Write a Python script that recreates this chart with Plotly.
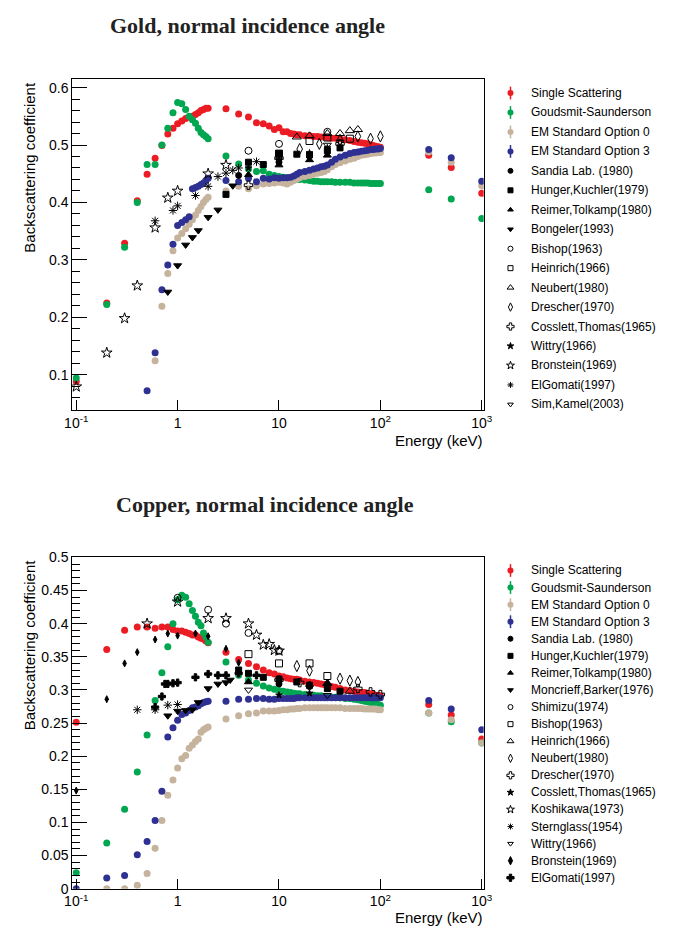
import plotly.graph_objects as go

W, H = 673, 933

# ================= GOLD (top panel) =================
au_E_ss = [0.1,0.2,0.3,0.4,0.5,0.6,0.7,0.8,0.9,1.0,1.1,1.2,1.3,1.4,1.5,1.6,1.7,1.8,1.9,2.0,
           3,4,5,6,7,8,9,10,11,12,13,14,15,16,18,20,22,24,26,28,30,33,36,40,45,50,55,60,65,70,75,80,85,90,95,100,300,500,1000]
au_ss = [0.088,0.225,0.329,0.403,0.449,0.477,0.499,0.519,0.529,0.537,0.542,0.546,0.549,0.550,0.553,0.556,0.560,0.562,0.564,0.564,
         0.563,0.554,0.549,0.539,0.537,0.533,0.527,0.530,0.523,0.523,0.520,0.519,0.518,0.518,0.516,0.516,0.515,0.515,0.514,0.514,
         0.513,0.512,0.512,0.511,0.509,0.508,0.506,0.505,0.504,0.503,0.502,0.500,0.499,0.498,0.497,0.496,0.482,0.461,0.416]
au_gs = [0.094,0.222,0.322,0.400,0.466,0.466,0.500,0.529,0.556,0.574,0.572,0.562,0.550,0.544,0.538,0.529,0.522,0.518,0.515,0.511,
         0.481,0.467,0.458,0.454,0.455,0.449,0.447,0.445,0.444,0.443,0.443,0.442,0.441,0.440,0.439,0.438,0.437,0.437,0.436,0.436,
         0.436,0.436,0.435,0.435,0.435,0.435,0.434,0.434,0.434,0.434,0.434,0.433,0.433,0.433,0.433,0.433,0.422,0.406,0.372]
au_E_em = au_E_ss[5:]
au_em0 = [0.124,0.219,0.276,0.316,0.338,0.346,0.354,0.362,0.370,0.378,0.386,0.393,0.400,0.405,0.409,
          0.420,0.428,0.424,0.429,0.432,0.433,0.434,0.435,0.434,0.432,0.435,0.438,0.441,0.443,0.445,0.447,0.449,0.451,0.452,0.454,
          0.457,0.462,0.466,0.469,0.472,0.475,0.477,0.480,0.482,0.483,0.484,0.485,0.486,0.486,0.487,0.487,0.488,0.470,0.429]
au_em3_E = [0.5] + au_E_em
au_em3 = [0.072,0.138,0.248,0.291,0.327,0.360,0.365,0.370,0.375,0.424,0.426,0.428,0.431,0.434,0.438,0.442,
          0.438,0.436,0.442,0.436,0.442,0.441,0.443,0.442,0.443,0.443,0.444,0.446,0.449,0.452,0.454,0.456,0.458,0.460,0.462,0.463,
          0.465,0.470,0.475,0.479,0.482,0.485,0.487,0.488,0.489,0.490,0.491,0.492,0.492,0.493,0.493,0.494,0.492,0.478,0.437]

au_sandia_E = [4, 10, 20]
au_sandia = [0.447, 0.470, 0.481]
au_hunger_E = [3, 5, 7, 10, 15, 20, 30, 40]
au_hunger = [0.414, 0.470, 0.466, 0.485, 0.484, 0.483, 0.490, 0.495]
au_reimer_E = [5, 10, 20, 30]
au_reimer = [0.448, 0.465, 0.474, 0.482]
au_bongeler_E = [0.8, 1.0, 1.2, 1.4, 1.6, 2.0, 2.5, 3.5]
au_bongeler = [0.244, 0.290, 0.326, 0.339, 0.351, 0.374, 0.387, 0.429]
au_bishop_E = [5, 10, 30]
au_bishop = [0.490, 0.502, 0.523]
au_heinrich_E = [10, 20, 30, 50]
au_heinrich = [0.485, 0.507, 0.513, 0.511]
au_neubert_E = [15, 20, 30, 40, 50, 60]
au_neubert = [0.514, 0.516, 0.520, 0.520, 0.525, 0.527]
au_drescher_E = [10, 16, 25, 40, 60, 80, 100]
au_drescher = [0.476, 0.493, 0.502, 0.509, 0.515, 0.511, 0.515]
au_cosslett_E = [5, 10, 40]
au_cosslett = [0.430, 0.477, 0.502]
au_wittry_E = [5, 10, 20, 30]
au_wittry = [0.460, 0.475, 0.486, 0.495]
au_bronstein_E = [0.1, 0.2, 0.3, 0.4, 0.6, 0.8, 1.0, 2.0, 3.0]
au_bronstein = [0.079, 0.138, 0.198, 0.255, 0.356, 0.408, 0.420, 0.450, 0.465]
au_elgomati_E = [0.6, 0.9, 1.0, 1.5, 2.0, 2.5, 3.0, 3.5, 4.0, 6.0]
au_elgomati = [0.368, 0.386, 0.394, 0.412, 0.428, 0.445, 0.451, 0.456, 0.460, 0.471]
au_simkamel_E = [30, 40]
au_simkamel = [0.500, 0.505]

# ================= COPPER (bottom panel) =================
cu_E = au_E_ss
cu_ss = [0.251,0.361,0.390,0.395,0.395,0.393,0.395,0.395,0.391,0.389,0.389,0.387,0.385,0.383,0.383,0.380,0.378,0.377,0.374,0.371,
         0.357,0.346,0.340,0.335,0.330,0.326,0.324,0.321,0.320,0.318,0.317,0.316,0.316,0.315,0.313,0.312,0.311,0.310,0.309,0.308,
         0.307,0.305,0.304,0.302,0.300,0.299,0.298,0.297,0.296,0.296,0.295,0.294,0.293,0.292,0.292,0.291,0.278,0.262,0.226]
cu_gs = [0.024,0.069,0.120,0.176,0.232,0.284,0.326,0.365,0.400,0.436,0.443,0.440,0.430,0.420,0.411,0.402,0.397,0.386,0.380,0.372,
         0.342,0.322,0.315,0.310,0.306,0.303,0.301,0.299,0.298,0.297,0.296,0.295,0.294,0.294,0.293,0.292,0.292,0.291,0.291,0.290,
         0.290,0.289,0.289,0.288,0.287,0.287,0.286,0.285,0.284,0.283,0.282,0.281,0.280,0.279,0.278,0.277,0.265,0.252,0.220]
cu_em0_E = au_E_ss[1:]
cu_em0 = [0.000,0.000,0.005,0.023,0.061,0.103,0.141,0.164,0.182,0.196,0.201,0.212,0.217,0.222,0.226,0.236,0.240,0.242,0.244,
          0.256,0.261,0.264,0.265,0.268,0.268,0.268,0.269,0.270,0.270,0.271,0.271,0.272,0.272,0.273,0.273,0.273,0.273,0.273,0.273,
          0.273,0.273,0.273,0.273,0.272,0.272,0.272,0.272,0.272,0.271,0.271,0.271,0.271,0.271,0.270,0.270,0.265,0.255,0.220]
cu_em3 = [0.000,0.016,0.020,0.051,0.071,0.103,0.147,0.229,0.243,0.254,0.263,0.265,0.269,0.273,0.274,0.276,0.279,0.281,0.282,0.283,
          0.283,0.286,0.286,0.287,0.287,0.286,0.286,0.287,0.287,0.287,0.287,0.287,0.288,0.288,0.288,0.288,0.288,0.288,0.288,0.288,
          0.288,0.288,0.288,0.288,0.288,0.288,0.288,0.288,0.288,0.288,0.288,0.288,0.288,0.288,0.288,0.288,0.284,0.271,0.240]

cu_sandia_E = [10, 20]
cu_sandia = [0.309, 0.305]
cu_hunger_E = [4, 5, 7, 10, 15, 20, 30, 40]
cu_hunger = [0.330, 0.325, 0.319, 0.316, 0.312, 0.307, 0.302, 0.298]
cu_reimer_E = [5, 20, 30]
cu_reimer = [0.312, 0.308, 0.310]
cu_moncrieff_E = [0.8, 1.0, 1.2, 1.4, 1.6, 2.0, 2.5, 3.0, 3.3]
cu_moncrieff = [0.261, 0.268, 0.269, 0.270, 0.281, 0.302, 0.309, 0.311, 0.315]
cu_shimizu_E = [1.0, 2.0, 3.0, 5.0, 10.0]
cu_shimizu = [0.439, 0.421, 0.400, 0.386, 0.359]
cu_bishop_E = [5, 10, 20, 30]
cu_bishop = [0.354, 0.340, 0.340, 0.321]
cu_heinrich_E = [30, 50]
cu_heinrich = [0.310, 0.298]
cu_neubert_E = [15, 20, 40, 50, 60]
cu_neubert = [0.336, 0.329, 0.317, 0.314, 0.312]
cu_drescher_E = [10, 16, 60, 80, 100]
cu_drescher = [0.315, 0.311, 0.302, 0.297, 0.293]
cu_cosslett_E = [10, 20]
cu_cosslett = [0.292, 0.295]
cu_koshikawa_E = [0.5, 1.0, 2.0, 3.0, 5.0, 6.0, 7.0, 8.0, 9.0, 10.0]
cu_koshikawa = [0.400, 0.433, 0.408, 0.408, 0.400, 0.383, 0.368, 0.369, 0.360, 0.359]
cu_sternglass_E = [0.4, 0.6, 0.8, 1.0]
cu_sternglass = [0.270, 0.270, 0.277, 0.278]
cu_wittry_E = [5, 30]
cu_wittry = [0.300, 0.292]
cu_bronstein_E = [0.1, 0.2, 0.3, 0.4, 0.6, 0.8, 1.0, 1.5, 2.0, 3.0, 4.0]
cu_bronstein = [0.148, 0.286, 0.340, 0.357, 0.376, 0.385, 0.382, 0.385, 0.381, 0.362, 0.341]
cu_elgomati_E = [0.6, 0.7, 0.75, 0.8, 0.9, 1.0, 1.5, 2.0, 2.5, 3.0, 4.0, 6.0]
cu_elgomati = [0.274, 0.290, 0.309, 0.309, 0.310, 0.311, 0.319, 0.324, 0.322, 0.322, 0.325, 0.322]

RED, GREEN, TAN, BLUE = "#ec1c24", "#00a650", "#c6b39d", "#2e3192"

x_tickvals = [0.1, 1, 10, 100, 1000]
x_ticktext = ["10<sup>-1</sup>", "1", "10", "10<sup>2</sup>", "10<sup>3</sup>"]
x_minor = [m * 10.0 ** d for d in (-1, 0, 1, 2) for m in range(2, 10)]

fig = go.Figure()

def sim(x, y, color, xa, ya):
    fig.add_trace(go.Scatter(x=x, y=y, mode="markers", xaxis=xa, yaxis=ya, showlegend=False,
                             marker=dict(symbol="circle", size=7, color=color, line=dict(width=0))))

def exp(x, y, sym, xa, ya, size=7):
    fig.add_trace(go.Scatter(x=x, y=y, mode="markers", xaxis=xa, yaxis=ya, showlegend=False,
                             marker=dict(symbol=sym, size=size, color="black",
                                         line=dict(width=1, color="black"))))

# gold
sim(au_E_ss, au_ss, RED, "x", "y")
sim(au_E_ss, au_gs, GREEN, "x", "y")
sim(au_E_em, au_em0, TAN, "x", "y")
sim(au_em3_E, au_em3, BLUE, "x", "y")
au_exp = [
    ("Sandia Lab. (1980)", au_sandia_E, au_sandia, "circle", 6),
    ("Hunger,Kuchler(1979)", au_hunger_E, au_hunger, "square", 6),
    ("Reimer,Tolkamp(1980)", au_reimer_E, au_reimer, "triangle-up", 7),
    ("Bongeler(1993)", au_bongeler_E, au_bongeler, "triangle-down", 7),
    ("Bishop(1963)", au_bishop_E, au_bishop, "circle-open", 7),
    ("Heinrich(1966)", au_heinrich_E, au_heinrich, "square-open", 7),
    ("Neubert(1980)", au_neubert_E, au_neubert, "triangle-up-open", 8),
    ("Drescher(1970)", au_drescher_E, au_drescher, "diamond-tall-open", 8),
    ("Cosslett,Thomas(1965)", au_cosslett_E, au_cosslett, "cross-open", 7),
    ("Wittry(1966)", au_wittry_E, au_wittry, "star", 5),
    ("Bronstein(1969)", au_bronstein_E, au_bronstein, "star-open", 8),
    ("ElGomati(1997)", au_elgomati_E, au_elgomati, "asterisk-open", 7),
    ("Sim,Kamel(2003)", au_simkamel_E, au_simkamel, "triangle-down-open", 7),
]
for name, ex, ey, sym, sz in au_exp:
    exp(ex, ey, sym, "x", "y", sz)

# copper
sim(cu_E, cu_ss, RED, "x2", "y2")
sim(cu_E, cu_gs, GREEN, "x2", "y2")
sim(cu_em0_E, cu_em0, TAN, "x2", "y2")
sim(cu_E, cu_em3, BLUE, "x2", "y2")
cu_exp = [
    ("Sandia Lab. (1980)", cu_sandia_E, cu_sandia, "circle", 6),
    ("Hunger,Kuchler(1979)", cu_hunger_E, cu_hunger, "square", 6),
    ("Reimer,Tolkamp(1980)", cu_reimer_E, cu_reimer, "triangle-up", 7),
    ("Moncrieff,Barker(1976)", cu_moncrieff_E, cu_moncrieff, "triangle-down", 7),
    ("Shimizu(1974)", cu_shimizu_E, cu_shimizu, "circle-open", 7),
    ("Bishop(1963)", cu_bishop_E, cu_bishop, "square-open", 7),
    ("Heinrich(1966)", cu_heinrich_E, cu_heinrich, "triangle-up-open", 8),
    ("Neubert(1980)", cu_neubert_E, cu_neubert, "diamond-tall-open", 8),
    ("Drescher(1970)", cu_drescher_E, cu_drescher, "cross-open", 7),
    ("Cosslett,Thomas(1965)", cu_cosslett_E, cu_cosslett, "star", 5),
    ("Koshikawa(1973)", cu_koshikawa_E, cu_koshikawa, "star-open", 8),
    ("Sternglass(1954)", cu_sternglass_E, cu_sternglass, "asterisk-open", 7),
    ("Wittry(1966)", cu_wittry_E, cu_wittry, "triangle-down-open", 7),
    ("Bronstein(1969)", cu_bronstein_E, cu_bronstein, "diamond-tall", 5),
    ("ElGomati(1997)", cu_elgomati_E, cu_elgomati, "cross", 6),
]
for name, ex, ey, sym, sz in cu_exp:
    exp(ex, ey, sym, "x2", "y2", sz)

sim_entries = [("Single Scattering", RED), ("Goudsmit-Saunderson", GREEN),
               ("EM Standard Option 0", TAN), ("EM Standard Option 3", BLUE)]

annotations = []
leg_font = dict(family="Liberation Sans, Arial", size=12, color="black")

def legend(entries_exp, y0, dy):
    rows = len(sim_entries) + len(entries_exp)
    ys = [y0 + i * dy for i in range(rows)]
    for i, (name, col) in enumerate(sim_entries):
        fig.add_trace(go.Scatter(x=[515.5], y=[ys[i]], mode="markers", xaxis="x3", yaxis="y3",
                                 showlegend=False, hoverinfo="skip",
                                 error_y=dict(type="constant", value=6.5, thickness=1.5, width=0, color=col),
                                 marker=dict(symbol="circle", size=6, color=col, line=dict(width=0))))
        annotations.append(dict(x=535 / W, y=1 - ys[i] / H, xref="paper", yref="paper", text=name,
                                showarrow=False, xanchor="left", yanchor="middle", font=leg_font))
    for j, (name, ex, ey, sym, sz) in enumerate(entries_exp):
        i = j + len(sim_entries)
        lsz = 6 if sym in ("cross", "cross-open", "diamond-tall", "diamond-tall-open") else max(sz - 2, 5)
        fig.add_trace(go.Scatter(x=[515.5], y=[ys[i]], mode="markers", xaxis="x3", yaxis="y3",
                                 showlegend=False, hoverinfo="skip",
                                 marker=dict(symbol=sym, size=lsz, color="black",
                                             line=dict(width=1, color="black"))))
        annotations.append(dict(x=535 / W, y=1 - ys[i] / H, xref="paper", yref="paper", text=name,
                                showarrow=False, xanchor="left", yanchor="middle", font=leg_font))

legend(au_exp, 86.5, 19.8)
legend(cu_exp, 572.3, 17.37)

title_font = dict(family="Liberation Serif, Times New Roman", size=22, color="#222222")
annotations.append(dict(x=246 / W, y=1 - 18 / H, xref="paper", yref="paper", showarrow=False,
                        text="<b>Gold, normal incidence angle</b>", xanchor="center", yanchor="middle", font=title_font))
annotations.append(dict(x=264 / W, y=1 - 505 / H, xref="paper", yref="paper", showarrow=False,
                        text="<b>Copper, normal incidence angle</b>", xanchor="center", yanchor="middle", font=title_font))
ax_font = dict(family="Liberation Sans, Arial", size=14, color="black")
for top, xt in ((73, 440), (559, 925)):
    annotations.append(dict(x=22 / W, y=1 - top / H, xref="paper", yref="paper", showarrow=False,
                            text="Backscattering coefficient", textangle=-90,
                            xanchor="center", yanchor="top", font=dict(ax_font, size=15)))
    annotations.append(dict(x=489 / W, y=1 - xt / H, xref="paper", yref="paper", showarrow=False,
                            text="Energy (keV)", xanchor="right", yanchor="middle", font=dict(ax_font, size=15)))

xdom = [66 / W, 488 / W]
XR = [-1.0385, 3.019]
major_x = dict(type="log", range=XR, domain=xdom, showline=True, linecolor="black",
               linewidth=1, mirror=True, ticks="inside", ticklen=10, tickcolor="black",
               tickmode="array", tickvals=x_tickvals, ticktext=x_ticktext, tickfont=ax_font,
               showgrid=False, zeroline=False)
minor_x = dict(type="log", range=XR, domain=xdom, showline=False, ticks="inside", ticklen=5,
               tickcolor="black", tickmode="array", tickvals=x_minor, ticktext=[""] * len(x_minor),
               showgrid=False, zeroline=False)
common_y = dict(showline=True, linecolor="black", linewidth=1, mirror=True, ticks="inside", ticklen=15,
                tickcolor="black", tickfont=ax_font, showgrid=False, zeroline=False)

fig.update_layout(
    width=W, height=H, margin=dict(l=0, r=0, t=0, b=0),
    paper_bgcolor="white", plot_bgcolor="rgba(0,0,0,0)", showlegend=False,
    xaxis=dict(**major_x, anchor="y"),
    yaxis=dict(**common_y, anchor="x", domain=[1 - 409 / H, 1 - 72 / H], range=[0.0384, 0.6154],
               tickmode="array", tickvals=[0.1, 0.2, 0.3, 0.4, 0.5, 0.6],
               ticktext=["0.1", "0.2", "0.3", "0.4", "0.5", "0.6"],
               minor=dict(tickmode="linear", dtick=0.02, tick0=0, ticks="inside", ticklen=8,
                          tickcolor="black", showgrid=False)),
    xaxis2=dict(**major_x, anchor="y2"),
    yaxis2=dict(**common_y, anchor="x2", domain=[1 - 896 / H, 1 - 559 / H], range=[0, 0.5],
                tickmode="array", tickvals=[0, 0.05, 0.1, 0.15, 0.2, 0.25, 0.3, 0.35, 0.4, 0.45, 0.5],
                ticktext=["0", "0.05", "0.1", "0.15", "0.2", "0.25", "0.3", "0.35", "0.4", "0.45", "0.5"],
                minor=dict(tickmode="linear", dtick=0.01, tick0=0, ticks="inside", ticklen=8,
                           tickcolor="black", showgrid=False)),
    xaxis3=dict(domain=[0, 1], range=[0, W], visible=False, anchor="y3"),
    yaxis3=dict(domain=[0, 1], range=[H, 0], visible=False, anchor="x3"),
    xaxis4=dict(**minor_x, overlaying="x", anchor="y"),
    xaxis5=dict(**minor_x, overlaying="x2", anchor="y2"),
    annotations=annotations,
)

fig.write_html("out.html")
